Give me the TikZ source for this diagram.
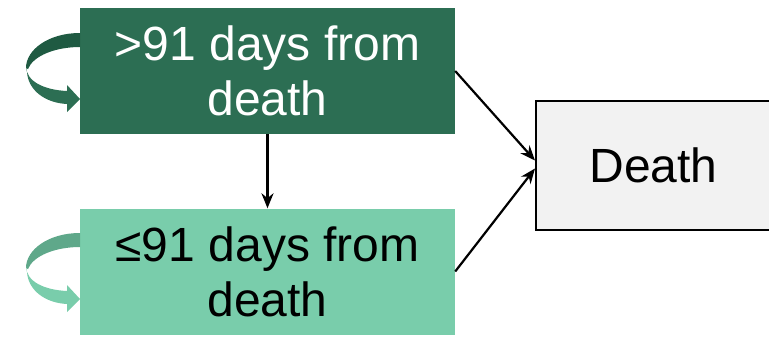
\documentclass[tikz,border=0pt]{standalone}
\usepackage{fontspec}
\setmainfont{Liberation Sans}
\usetikzlibrary{arrows.meta}
\definecolor{dkgreen}{HTML}{2C6E53}
\definecolor{dkgreenshade}{HTML}{1F5A42}
\definecolor{ltgreen}{HTML}{79CDAB}
\definecolor{ltgreenshade}{HTML}{5FA88A}
\definecolor{deathfill}{HTML}{F2F2F2}
\begin{document}
\begin{tikzpicture}[x=1pt,y=-1pt,
  statebox/.style={minimum width=375pt,minimum height=126pt,inner sep=0pt,align=center,
    font=\fontsize{48}{55}\selectfont},
  conn/.style={line width=2.2pt,-{Stealth[length=15pt,width=12pt]}}]
\useasboundingbox (0,0) rectangle (769,340);
\node[statebox,fill=dkgreen,text=white] (far) at (267.5,71) {>91 days from\\death};
\node[statebox,fill=ltgreen,text=black] (near) at (267.5,271.5) {≤91 days from\\death};
\node[draw=black,line width=2pt,fill=deathfill,minimum width=235pt,minimum height=129pt,
  inner sep=0pt,font=\fontsize{48}{55}\selectfont] (death) at (653.5,165.5) {Death};
\draw[conn] (far.east) -- ([yshift=5pt]death.west);
\draw[conn] (near.east) -- ([yshift=-3pt]death.west);
\draw[conn] (far.south) -- (near.north);
% self-loop ribbons
\foreach \dy/\cu/\cl in {0/dkgreenshade/dkgreen,200/ltgreenshade/ltgreen}{
  \fill[\cu] (80,33+\dy) .. controls (48,33+\dy) and (26,50+\dy) .. (26,68+\dy)
    -- (28,69+\dy) .. controls (33,56+\dy) and (55,47+\dy) .. (80,47+\dy) -- cycle;
  \fill[\cl] (26,66+\dy) .. controls (26,82+\dy) and (45,90+\dy) .. (67,91+\dy)
    -- (67,85+\dy) -- (80,99+\dy) -- (67,112+\dy) -- (67,104+\dy)
    .. controls (45,103+\dy) and (28,90+\dy) .. (27,72+\dy) -- cycle;
}
\end{tikzpicture}
\end{document}
